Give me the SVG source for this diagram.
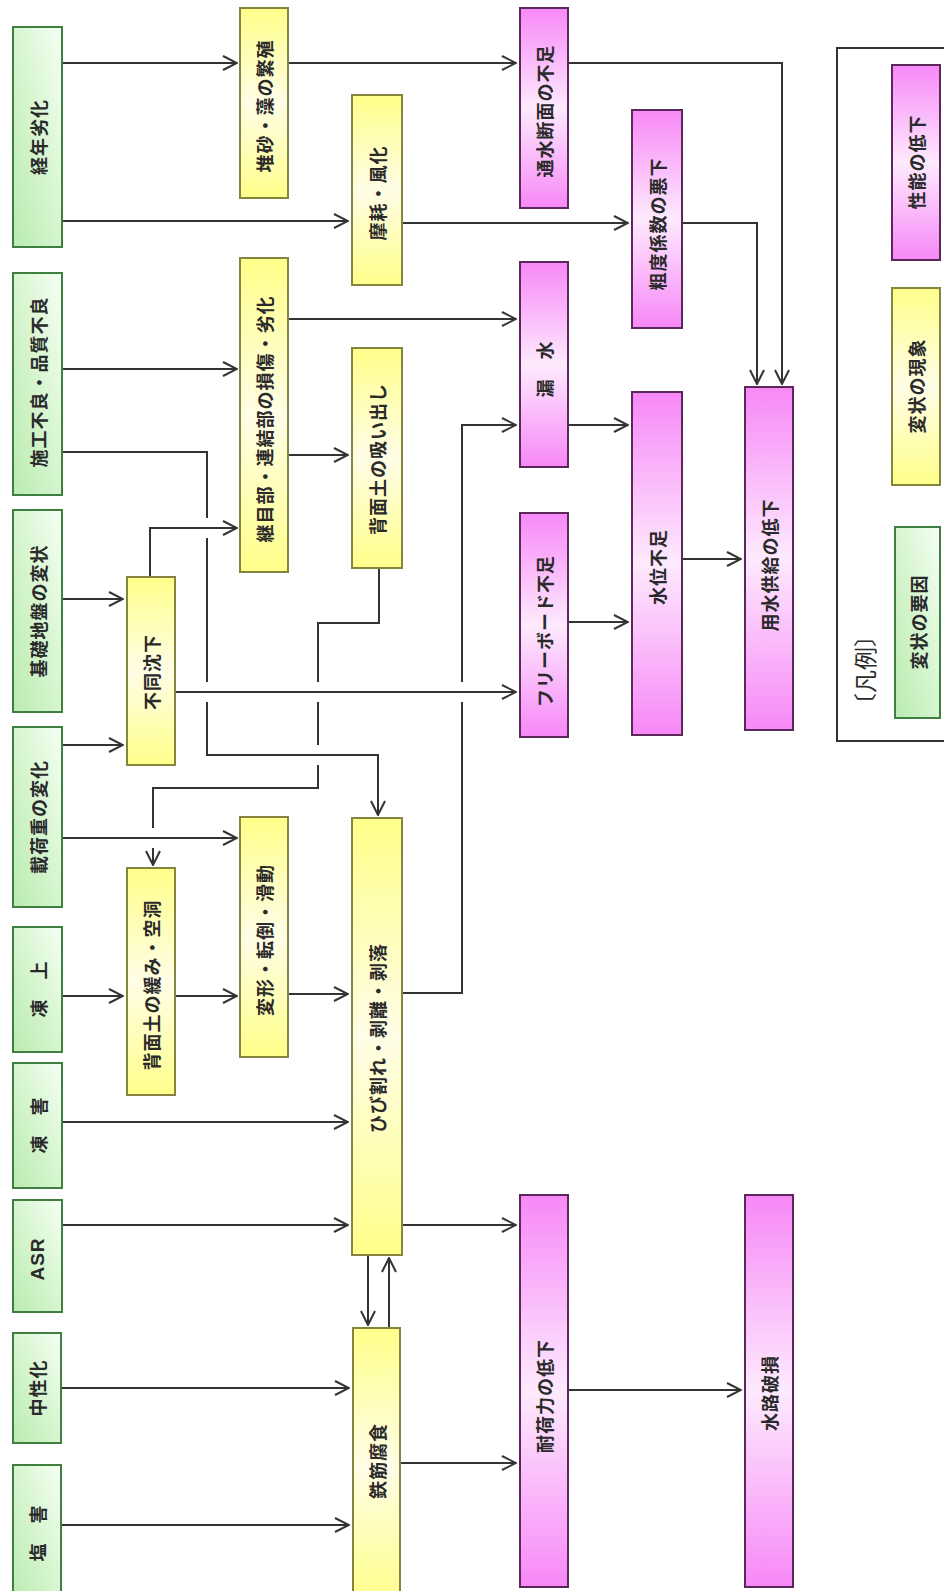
<svg xmlns="http://www.w3.org/2000/svg" width="944" height="1591" viewBox="0 0 944 1591">
<defs>
<linearGradient id="gG" x1="0" y1="1" x2="1" y2="0">
<stop offset="0" stop-color="#b9ebb0"/>
<stop offset="0.6" stop-color="#dcf7d6"/>
<stop offset="1" stop-color="#f6fff4"/>
</linearGradient>
<linearGradient id="gY" x1="0" y1="0" x2="0" y2="1">
<stop offset="0" stop-color="#ffff8a"/>
<stop offset="0.5" stop-color="#fffde6"/>
<stop offset="1" stop-color="#ffff8a"/>
</linearGradient>
<linearGradient id="gM" x1="0" y1="0" x2="0" y2="1">
<stop offset="0" stop-color="#f788f7"/>
<stop offset="0.5" stop-color="#fdeafd"/>
<stop offset="1" stop-color="#f788f7"/>
</linearGradient>
<marker id="arr" markerUnits="userSpaceOnUse" markerWidth="16" markerHeight="16" viewBox="0 0 16 16" refX="15" refY="8" orient="auto">
<path d="M1,1 L15,8 L1,15" fill="none" stroke="#333" stroke-width="2"/>
</marker>
</defs>
<style>
.g rect{fill:url(#gG);stroke:#3f7f3f;stroke-width:2}
.y rect{fill:url(#gY);stroke:#85853f;stroke-width:2}
.m rect{fill:url(#gM);stroke:#5a285a;stroke-width:2}
text{font-family:"Noto Sans CJK JP","Noto Sans",sans-serif;font-size:18px;font-weight:bold;fill:#2a2a2a;text-anchor:middle;dominant-baseline:central;letter-spacing:1px}
.lat{font-family:"Liberation Sans",Arial,sans-serif;font-size:19px}
.ttl{font-size:23px;font-weight:normal;letter-spacing:0}
#conn path{fill:none;stroke:#333;stroke-width:2}
#conn path.a{marker-end:url(#arr)}
</style>
<rect width="944" height="1591" fill="#fff"/>

<g id="conn">
<path class="a" d="M62,63 H237"/>
<path class="a" d="M62,221 H348"/>
<path class="a" d="M288,63 H516"/>
<path class="a" d="M568,63 H782 V384"/>
<path class="a" d="M402,223 H628"/>
<path class="a" d="M682,223 H757 V384"/>
<path class="a" d="M62,369 H237"/>
<path d="M62,452 H207 V518"/>
<path d="M207,538 V682"/>
<path class="a" d="M207,702 V755 H378 V815"/>
<path class="a" d="M288,319 H516"/>
<path class="a" d="M288,455 H348"/>
<path class="a" d="M62,599 H123"/>
<path class="a" d="M62,745 H123"/>
<path class="a" d="M150,577 V528 H237"/>
<path class="a" d="M175,692 H516"/>
<path d="M379,568 V623 H318 V682"/>
<path d="M318,702 V745"/>
<path d="M318,765 V788 H153 V828"/>
<path class="a" d="M153,848 V865"/>
<path class="a" d="M62,838 H237"/>
<path class="a" d="M62,996 H123"/>
<path class="a" d="M175,996 H237"/>
<path class="a" d="M288,994 H348"/>
<path d="M402,993 H462 V702"/>
<path class="a" d="M462,682 V425 H516"/>
<path class="a" d="M62,1122 H348"/>
<path class="a" d="M62,1225 H348"/>
<path class="a" d="M402,1225 H516"/>
<path class="a" d="M368,1255 V1325"/>
<path class="a" d="M389,1328 V1258"/>
<path class="a" d="M62,1388 H349"/>
<path class="a" d="M62,1525 H349"/>
<path class="a" d="M400,1463 H516"/>
<path class="a" d="M568,1390 H741"/>
<path class="a" d="M568,425 H628"/>
<path class="a" d="M568,622 H628"/>
<path class="a" d="M682,559 H741"/>
</g>

<g id="n_keinen" class="g"><rect x="13" y="27" width="49" height="220"/><text x="37.5" y="137" transform="rotate(-90 37.5 137)">経年劣化</text></g>
<g id="n_sekou" class="g"><rect x="13" y="273" width="49" height="222"/><text x="37.5" y="382" transform="rotate(-90 37.5 382)">施工不良・品質不良</text></g>
<g id="n_kiso" class="g"><rect x="13" y="510" width="49" height="202"/><text x="37.5" y="611" transform="rotate(-90 37.5 611)">基礎地盤の変状</text></g>
<g id="n_kaju" class="g"><rect x="13" y="727" width="49" height="180"/><text x="37.5" y="817" transform="rotate(-90 37.5 817)">載荷重の変化</text></g>
<g id="n_tojo" class="g"><rect x="13" y="927" width="49" height="125"/><text x="37.5" y="989" transform="rotate(-90 37.5 989)">凍　上</text></g>
<g id="n_tougai" class="g"><rect x="13" y="1063" width="49" height="125"/><text x="37.5" y="1125" transform="rotate(-90 37.5 1125)">凍　害</text></g>
<g id="n_asr" class="g"><rect x="13" y="1200" width="49" height="112"/><text class="lat" x="37.5" y="1259" transform="rotate(-90 37.5 1259)">ASR</text></g>
<g id="n_chusei" class="g"><rect x="13" y="1333" width="48" height="110"/><text x="37" y="1388" transform="rotate(-90 37 1388)">中性化</text></g>
<g id="n_engai" class="g"><rect x="13" y="1465" width="48" height="140"/><text x="37" y="1533" transform="rotate(-90 37 1533)">塩　害</text></g>

<g id="n_taisa" class="y"><rect x="240" y="8" width="48" height="190"/><text x="264" y="106" transform="rotate(-90 264 106)">堆砂・藻の繁殖</text></g>
<g id="n_mamo" class="y"><rect x="352" y="95" width="50" height="190"/><text x="377" y="193" transform="rotate(-90 377 193)">摩耗・風化</text></g>
<g id="n_tsugime" class="y"><rect x="240" y="258" width="48" height="314"/><text x="264" y="419" transform="rotate(-90 264 419)">継目部・連結部の損傷・劣化</text></g>
<g id="n_suidashi" class="y"><rect x="352" y="348" width="50" height="220"/><text x="377" y="459" transform="rotate(-90 377 459)">背面土の吸い出し</text></g>
<g id="n_fudo" class="y"><rect x="127" y="577" width="48" height="188"/><text x="151" y="672" transform="rotate(-90 151 672)">不同沈下</text></g>
<g id="n_yurumi" class="y"><rect x="127" y="868" width="48" height="227"/><text x="151" y="985" transform="rotate(-90 151 985)">背面土の緩み・空洞</text></g>
<g id="n_henkei" class="y"><rect x="240" y="817" width="48" height="240"/><text x="264" y="940" transform="rotate(-90 264 940)">変形・転倒・滑動</text></g>
<g id="n_hibi" class="y"><rect x="352" y="818" width="50" height="437"/><text x="377" y="1038" transform="rotate(-90 377 1038)">ひび割れ・剥離・剥落</text></g>
<g id="n_tekkin" class="y"><rect x="353" y="1328" width="47" height="275"/><text x="376.5" y="1461" transform="rotate(-90 376.5 1461)">鉄筋腐食</text></g>

<g id="n_tsusui" class="m"><rect x="520" y="8" width="48" height="200"/><text x="544" y="111" transform="rotate(-90 544 111)">通水断面の不足</text></g>
<g id="n_sodo" class="m"><rect x="632" y="110" width="50" height="218"/><text x="657" y="224" transform="rotate(-90 657 224)">粗度係数の悪下</text></g>
<g id="n_rousui" class="m"><rect x="520" y="262" width="48" height="205"/><text x="544" y="369" transform="rotate(-90 544 369)">漏　水</text></g>
<g id="n_free" class="m"><rect x="520" y="513" width="48" height="224"/><text x="544" y="631" transform="rotate(-90 544 631)">フリーボード不足</text></g>
<g id="n_suii" class="m"><rect x="632" y="392" width="50" height="343"/><text x="657" y="567" transform="rotate(-90 657 567)">水位不足</text></g>
<g id="n_yousui" class="m"><rect x="745" y="387" width="48" height="343"/><text x="769" y="565" transform="rotate(-90 769 565)">用水供給の低下</text></g>
<g id="n_taika" class="m"><rect x="520" y="1195" width="48" height="392"/><text x="544" y="1396" transform="rotate(-90 544 1396)">耐荷力の低下</text></g>
<g id="n_suiro" class="m"><rect x="745" y="1195" width="48" height="392"/><text x="769" y="1393" transform="rotate(-90 769 1393)">水路破損</text></g>

<g id="legend">
<rect x="837" y="48" width="120" height="693" fill="none" stroke="#333" stroke-width="2"/>
<text class="ttl" x="864" y="670" transform="rotate(-90 864 670)">〔凡例〕</text>
<g id="lg_m" class="m"><rect x="892" y="65" width="48" height="195"/><text x="916" y="162" transform="rotate(-90 916 162)">性能の低下</text></g>
<g id="lg_y" class="y"><rect x="892" y="288" width="48" height="197"/><text x="916" y="386" transform="rotate(-90 916 386)">変状の現象</text></g>
<g id="lg_g" class="g"><rect x="895" y="527" width="45" height="191"/><text x="917.5" y="622" transform="rotate(-90 917.5 622)">変状の要因</text></g>
</g>
</svg>
